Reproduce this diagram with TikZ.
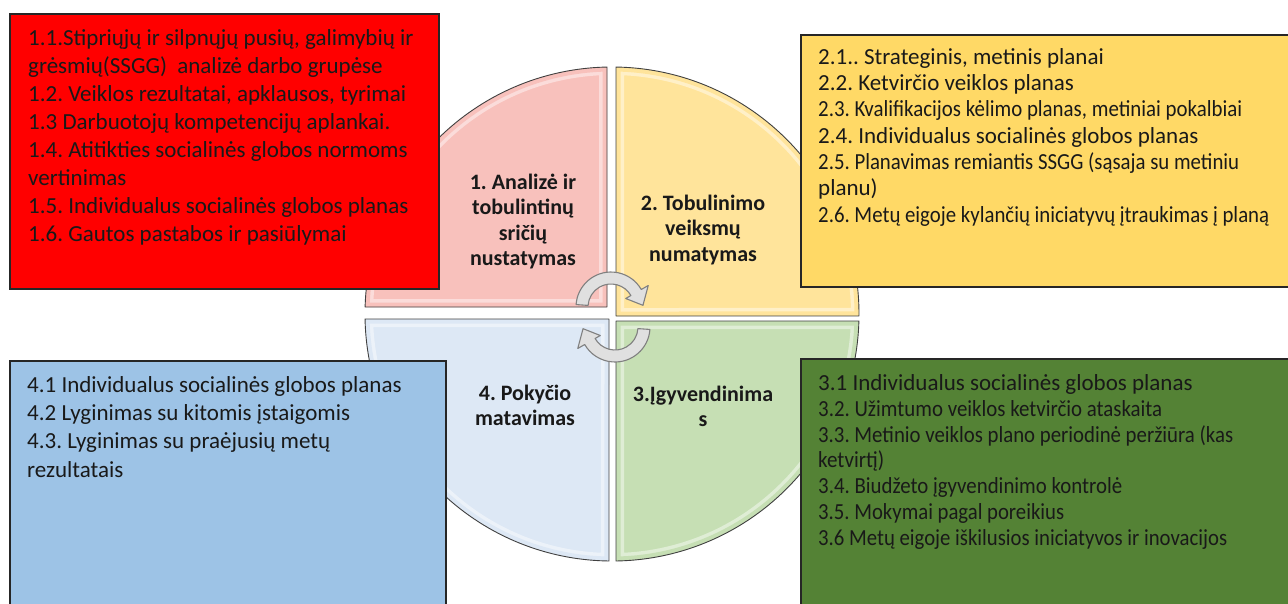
\documentclass[tikz,border=0pt]{standalone}
\usepackage{fontspec}
\usepackage{graphicx}
\setmainfont{Carlito}
\definecolor{qpink}{HTML}{F8C1BC}
\definecolor{qyellow}{HTML}{FFE49B}
\definecolor{qblue}{HTML}{DDE8F5}
\definecolor{qgreen}{HTML}{C6DFB4}
\definecolor{bred}{HTML}{FF0000}
\definecolor{byellow}{HTML}{FFD966}
\definecolor{bblue}{HTML}{9DC3E6}
\definecolor{bgreen}{HTML}{548235}
\newcommand\drawquad[2]{%
  \begin{scope}
    \clip #2;
    \fill[#1] #2;
    \draw[white,opacity=0.45,line width=16pt] #2;
    \draw[#1,line width=9pt] #2;
  \end{scope}
  \draw[quad] #2;}
\newcommand\fitw[2]{\resizebox{#1pt}{\height}{#2}}
\begin{document}
\frenchspacing
\begin{tikzpicture}[x=1pt,y=1pt,
  quad/.style={draw=black!75,line width=0.9pt,line join=round},
  boxrect/.style={draw=black!85,line width=1.2pt},
  boxtext/.style={anchor=north west,inner sep=0pt,align=left,text=black!90},
  qlabel/.style={anchor=north,inner sep=0pt,align=center,font=\bfseries\fontsize{22}{25.5}\selectfont,text=black!90},
  cyc/.style={fill=black!12,draw=black!50,line width=1.1pt,line join=round}]
\useasboundingbox (0,0) rectangle (1288,-603);
\clip (0,0) rectangle (1288,-603);
% quadrants
\drawquad{qpink}{(607,-307) -- (365.10,-307) arc[start angle=178.38,end angle=91.16,radius=247] -- cycle}
\drawquad{qyellow}{(616,-316) -- (616,-67.03) arc[start angle=89.07,end angle=-0.46,radius=247] -- cycle}
\drawquad{qblue}{(609,-319) -- (365.05,-319) arc[start angle=181.16,end angle=269.30,radius=247] -- cycle}
\drawquad{qgreen}{(616,-321) -- (858.90,-321) arc[start angle=-1.62,end angle=-89.07,radius=247] -- cycle}
% boxes
\filldraw[boxrect,fill=bred] (10,-14) rectangle (439,-289);
\filldraw[boxrect,fill=byellow] (801,-35) rectangle (1295,-287);
\filldraw[boxrect,fill=bblue] (10,-361) rectangle (446,-610);
\filldraw[boxrect,fill=bgreen] (801,-359) rectangle (1295,-610);
% cycle arrows
\coordinate (ca) at (611,-307);
\coordinate (cb) at (615,-327);
\filldraw[cyc] ([shift={(176:35)}]ca) arc[start angle=176,end angle=30,radius=35]
  -- ([shift={(30:43)}]ca) -- ([shift={(3:32)}]ca) -- ([shift={(30:17)}]ca)
  -- ([shift={(30:23)}]ca) arc[start angle=30,end angle=176,radius=23] -- cycle;
\filldraw[cyc] ([shift={(-4:35)}]cb) arc[start angle=-4,end angle=-150,radius=35]
  -- ([shift={(-150:43)}]cb) -- ([shift={(-177:32)}]cb) -- ([shift={(-150:17)}]cb)
  -- ([shift={(-150:23)}]cb) arc[start angle=-150,end angle=-4,radius=23] -- cycle;
% quadrant labels
\node[qlabel] (l1) at (523,-171.15) {\strut 1. Analizė ir\\tobulintinų\\sričių\\nustatymas};
\node[qlabel] (l2) at (703,-192.15) {\strut 2. Tobulinimo\\veiksmų\\numatymas};
\node[qlabel] (l4) at (525,-382.15) {\strut 4. Pokyčio\\matavimas};
\node[qlabel] (l3) at (703,-383.15) {\strut 3.Įgyvendinima\\s};
% box texts
\node[boxtext,font=\fontsize{23}{28.1}\selectfont] (t1) at (28,-25.33) {\strut 1.1.Stipriųjų ir silpnųjų pusių, galimybių ir\\grėsmių(SSGG)~ analizė darbo grupėse\\1.2. Veiklos rezultatai, apklausos, tyrimai\\1.3 Darbuotojų kompetencijų aplankai.\\1.4. Atitikties socialinės globos normoms\\vertinimas\\1.5. Individualus socialinės globos planas\\1.6. Gautos pastabos ir pasiūlymai};
\node[boxtext,font=\fontsize{23}{26.3}\selectfont] (t2) at (818,-45.59) {\strut 2.1.. Strateginis, metinis planai\\2.2. Ketvirčio veiklos planas\\\fitw{424}{2.3. Kvalifikacijos kėlimo planas, metiniai pokalbiai}\\2.4. Individualus socialinės globos planas\\\fitw{421}{2.5. Planavimas remiantis SSGG (sąsaja su metiniu}\\planu)\\\fitw{451}{2.6. Metų eigoje kylančių iniciatyvų įtraukimas į planą}};
\node[boxtext,font=\fontsize{23}{28.3}\selectfont] (t4) at (27,-372.19) {\strut 4.1 Individualus socialinės globos planas\\4.2 Lyginimas su kitomis įstaigomis\\4.3. Lyginimas su praėjusių metų\\rezultatais};
\node[boxtext,font=\fontsize{23}{25.9}\selectfont] (t3) at (818,-371.87) {\strut 3.1 Individualus socialinės globos planas\\\fitw{344}{3.2. Užimtumo veiklos ketvirčio ataskaita}\\\fitw{415}{3.3. Metinio veiklos plano periodinė peržiūra (kas}\\\fitw{66}{ketvirtį)}\\\fitw{304}{3.4. Biudžeto įgyvendinimo kontrolė}\\\fitw{246}{3.5. Mokymai pagal poreikius}\\\fitw{409}{3.6 Metų eigoje iškilusios iniciatyvos ir inovacijos}};
\end{tikzpicture}
\end{document}
